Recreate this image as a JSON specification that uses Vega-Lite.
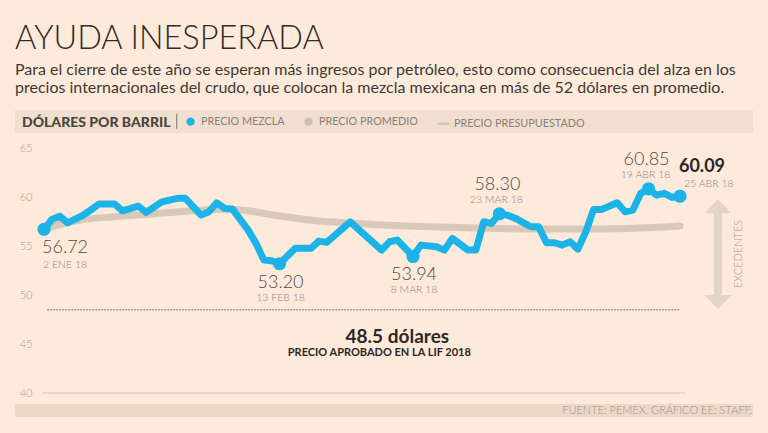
{
  "$schema": "https://vega.github.io/schema/vega-lite/v6.json",
  "autosize": {"type": "none"},
  "width": 738,
  "height": 318.5,
  "padding": {"left": 15, "top": 104, "right": 15, "bottom": 10.5},
  "background": "#fdeadb",
  "config": {
    "view": {"stroke": null},
    "font": "Lato"
  },
  "title": {
    "text": "AYUDA INESPERADA",
    "subtitle": [
      "Para el cierre de este año se esperan más ingresos por petróleo, esto como consecuencia del alza en los",
      "precios internacionales del crudo, que colocan la mezcla mexicana en más de 52 dólares en promedio."
    ],
    "anchor": "start",
    "frame": "group",
    "font": "Lato",
    "fontSize": 32.5,
    "fontWeight": 300,
    "color": "#2f2b28",
    "subtitleFont": "Lato",
    "subtitleFontSize": 16,
    "subtitleColor": "#3d3935",
    "subtitleLineHeight": 18,
    "subtitlePadding": 7,
    "offset": 8
  },
  "datasets": {
    "mezcla": [
      {"sesion": 0, "precio": 56.72}, {"sesion": 1, "precio": 57.72}, {"sesion": 2, "precio": 58.06},
      {"sesion": 3, "precio": 57.38}, {"sesion": 5, "precio": 58.16}, {"sesion": 7, "precio": 59.29},
      {"sesion": 9, "precio": 59.29}, {"sesion": 10, "precio": 58.6}, {"sesion": 12, "precio": 59.08},
      {"sesion": 13, "precio": 58.44}, {"sesion": 15, "precio": 59.52}, {"sesion": 17, "precio": 59.87},
      {"sesion": 18, "precio": 59.87}, {"sesion": 20, "precio": 58.16}, {"sesion": 21, "precio": 58.5},
      {"sesion": 22, "precio": 59.42}, {"sesion": 23, "precio": 58.85}, {"sesion": 24, "precio": 58.78},
      {"sesion": 26, "precio": 56.63}, {"sesion": 27, "precio": 55.28}, {"sesion": 28, "precio": 53.57},
      {"sesion": 29, "precio": 53.5}, {"sesion": 30, "precio": 53.2}, {"sesion": 32, "precio": 54.77},
      {"sesion": 34, "precio": 54.77}, {"sesion": 35, "precio": 55.51}, {"sesion": 36, "precio": 55.38},
      {"sesion": 39, "precio": 57.48}, {"sesion": 43, "precio": 54.59}, {"sesion": 44, "precio": 55.44},
      {"sesion": 45, "precio": 55.61}, {"sesion": 47, "precio": 53.94}, {"sesion": 48, "precio": 55.1},
      {"sesion": 50, "precio": 54.93}, {"sesion": 51, "precio": 54.59}, {"sesion": 52, "precio": 55.79},
      {"sesion": 54, "precio": 54.59}, {"sesion": 55, "precio": 54.59}, {"sesion": 56, "precio": 57.48},
      {"sesion": 57, "precio": 57.32}, {"sesion": 58, "precio": 58.3}, {"sesion": 59, "precio": 58.16},
      {"sesion": 60, "precio": 57.85}, {"sesion": 62, "precio": 56.97}, {"sesion": 63, "precio": 56.97},
      {"sesion": 64, "precio": 55.34}, {"sesion": 65, "precio": 55.34}, {"sesion": 66, "precio": 55.1},
      {"sesion": 67, "precio": 55.44}, {"sesion": 68, "precio": 54.69}, {"sesion": 69, "precio": 56.46},
      {"sesion": 70, "precio": 58.74}, {"sesion": 71, "precio": 58.74}, {"sesion": 73, "precio": 59.42},
      {"sesion": 74, "precio": 58.5}, {"sesion": 75, "precio": 58.67}, {"sesion": 76, "precio": 60.38},
      {"sesion": 77, "precio": 60.85}, {"sesion": 78, "precio": 60.2}, {"sesion": 79, "precio": 60.38},
      {"sesion": 80, "precio": 59.97}, {"sesion": 81, "precio": 60.09}
    ],
    "promedio": [
      {"sesion": 0, "precio": 56.72}, {"sesion": 2, "precio": 57.2}, {"sesion": 5, "precio": 57.7},
      {"sesion": 9, "precio": 58.0}, {"sesion": 14, "precio": 58.3}, {"sesion": 19, "precio": 58.6},
      {"sesion": 23, "precio": 58.75}, {"sesion": 26, "precio": 58.6}, {"sesion": 29, "precio": 58.2},
      {"sesion": 33, "precio": 57.75}, {"sesion": 37, "precio": 57.45}, {"sesion": 42, "precio": 57.2},
      {"sesion": 48, "precio": 57.0}, {"sesion": 55, "precio": 56.85}, {"sesion": 62, "precio": 56.75},
      {"sesion": 70, "precio": 56.75}, {"sesion": 76, "precio": 56.85}, {"sesion": 81, "precio": 57.05}
    ],
    "destacados": [
      {"sesion": 0, "precio": 56.72, "fecha": "2 ENE 18", "serie": "PRECIO MEZCLA"},
      {"sesion": 30, "precio": 53.2, "fecha": "13 FEB 18", "serie": "PRECIO MEZCLA"},
      {"sesion": 47, "precio": 53.94, "fecha": "8 MAR 18", "serie": "PRECIO MEZCLA"},
      {"sesion": 58, "precio": 58.3, "fecha": "23 MAR 18", "serie": "PRECIO MEZCLA"},
      {"sesion": 77, "precio": 60.85, "fecha": "19 ABR 18", "serie": "PRECIO MEZCLA"},
      {"sesion": 81, "precio": 60.09, "fecha": "25 ABR 18", "serie": "PRECIO MEZCLA"}
    ],
    "lif": [
      {"precio": 48.5, "texto": "48.5 dólares", "nota": "PRECIO APROBADO EN LA LIF 2018"}
    ]
  },
  "encoding": {
    "x": {"type": "quantitative", "scale": {"domain": [-3.7, 90.3], "nice": false, "zero": false}, "axis": null},
    "y": {"type": "quantitative", "scale": {"domain": [37, 69.5], "nice": false, "zero": false},
      "axis": {"values": [40, 45, 50, 55, 60, 65], "grid": false, "domain": false, "ticks": false, "tickSize": 0,
        "labelPadding": 0, "offset": -17, "title": null, "labelFont": "Lato", "labelFontWeight": 300,
        "labelFontSize": 11, "labelColor": "#a99f96"}}
  },
  "layer": [
    {
      "data": {"values": [{}]},
      "mark": {"type": "rect", "color": "#f0dece"},
      "encoding": {"x": {"datum": -3.7}, "x2": {"datum": 90.3}, "y": {"datum": 66.53}, "y2": {"datum": 68.88}}
    },
    {
      "data": {"values": [{}]},
      "mark": {"type": "rule", "color": "#7d746d", "strokeWidth": 1},
      "encoding": {"x": {"datum": 16.9}, "y": {"datum": 66.95}, "y2": {"datum": 68.5}}
    },
    {
      "data": {"values": [{}]},
      "mark": {"type": "rect", "color": "#ebd8c7"},
      "encoding": {"x": {"datum": -3.7}, "x2": {"datum": 90.3}, "y": {"datum": 37.55}, "y2": {"datum": 38.88}}
    },
    {
      "data": {"values": [{}]},
      "mark": {"type": "rule", "color": "#e6d4c4", "strokeWidth": 2},
      "encoding": {"x": {"datum": -0.13}, "x2": {"datum": 81.6}, "y": {"datum": 40}}
    },
    {
      "data": {"name": "lif"},
      "mark": {"type": "rule", "color": "#a99b8e", "strokeWidth": 1.5, "strokeDash": [2, 1]},
      "encoding": {"x": {"datum": 0.4}, "x2": {"datum": 81}, "y": {"field": "precio"}}
    },
    {
      "data": {"name": "lif"},
      "mark": {"type": "text", "font": "Lato", "fontWeight": "bold", "fontSize": 19, "color": "#2b2724", "align": "center", "baseline": "alphabetic", "dy": 33},
      "encoding": {"x": {"datum": 45}, "y": {"field": "precio"}, "text": {"field": "texto"}}
    },
    {
      "data": {"name": "lif"},
      "mark": {"type": "text", "font": "Lato", "fontWeight": "bold", "fontSize": 11, "color": "#2b2724", "align": "center", "baseline": "alphabetic", "dy": 46},
      "encoding": {"x": {"datum": 42.7}, "y": {"field": "precio"}, "text": {"field": "nota"}}
    },
    {
      "data": {"name": "promedio"},
      "mark": {"type": "line", "color": "#d9c9b9", "strokeWidth": 7, "interpolate": "monotone", "strokeCap": "round"},
      "encoding": {"x": {"field": "sesion"}, "y": {"field": "precio"}}
    },
    {
      "data": {"name": "mezcla"},
      "mark": {"type": "line", "color": "#1cb4e8", "strokeWidth": 7, "strokeJoin": "round", "strokeCap": "round"},
      "encoding": {"x": {"field": "sesion"}, "y": {"field": "precio"}}
    },
    {
      "data": {"name": "destacados"},
      "mark": {"type": "point", "filled": true, "size": 175, "opacity": 1},
      "encoding": {
        "x": {"field": "sesion"},
        "y": {"field": "precio"},
        "color": {
          "field": "serie", "type": "nominal",
          "scale": {"domain": ["PRECIO MEZCLA", "PRECIO PROMEDIO", "PRECIO PRESUPUESTADO"], "range": ["#1cb4e8", "#cbbfb3", "#cfc2b5"]},
          "legend": {
            "title": "DÓLARES POR BARRIL",
            "orient": "none", "legendX": 7, "legendY": 12,
            "direction": "horizontal",
            "titleOrient": "left",
            "titleFont": "Lato", "titleFontSize": 14, "titleFontWeight": 900, "titleColor": "#4b4541",
            "titlePadding": 14,
            "labelFont": "Lato", "labelFontSize": 10.8, "labelColor": "#8b8079", "labelOffset": 5,
            "columnPadding": 14, "symbolSize": 70, "padding": 0,
            "symbolOpacity": 1,
            "encode": {"symbols": {"update": {
              "shape": {"signal": "datum.value === 'PRECIO PRESUPUESTADO' ? 'stroke' : 'circle'"},
              "stroke": {"signal": "datum.value === 'PRECIO PRESUPUESTADO' ? '#cfc2b5' : 'transparent'"},
              "strokeWidth": {"value": 2.5},
              "size": {"signal": "datum.value === 'PRECIO PRESUPUESTADO' ? 130 : 70"}
            }}}
          }
        }
      }
    },
    {
      "data": {"name": "destacados"},
      "transform": [{"filter": {"field": "fecha", "oneOf": ["2 ENE 18"]}}],
      "layer": [
        {"mark": {"type": "text", "font": "Lato", "fontWeight": 300, "fontSize": 18, "color": "#4f4a46", "align": "left", "baseline": "alphabetic", "dx": -2, "dy": 24},
         "encoding": {"x": {"field": "sesion"}, "y": {"field": "precio"}, "text": {"field": "precio", "format": ".2f"}}},
        {"mark": {"type": "text", "font": "Lato", "fontWeight": 300, "fontSize": 10.5, "color": "#8d857e", "align": "left", "baseline": "alphabetic", "dx": -1, "dy": 39},
         "encoding": {"x": {"field": "sesion"}, "y": {"field": "precio"}, "text": {"field": "fecha"}}}
      ]
    },
    {
      "data": {"name": "destacados"},
      "transform": [{"filter": {"field": "fecha", "oneOf": ["13 FEB 18", "8 MAR 18"]}}],
      "layer": [
        {"mark": {"type": "text", "font": "Lato", "fontWeight": 300, "fontSize": 18, "color": "#4f4a46", "align": "center", "baseline": "alphabetic", "dx": 1, "dy": 24},
         "encoding": {"x": {"field": "sesion"}, "y": {"field": "precio"}, "text": {"field": "precio", "format": ".2f"}}},
        {"mark": {"type": "text", "font": "Lato", "fontWeight": 300, "fontSize": 10.5, "color": "#8d857e", "align": "center", "baseline": "alphabetic", "dx": 1, "dy": 37},
         "encoding": {"x": {"field": "sesion"}, "y": {"field": "precio"}, "text": {"field": "fecha"}}}
      ]
    },
    {
      "data": {"name": "destacados"},
      "transform": [{"filter": {"field": "fecha", "oneOf": ["23 MAR 18", "19 ABR 18"]}}],
      "layer": [
        {"mark": {"type": "text", "font": "Lato", "fontWeight": 300, "fontSize": 18, "color": "#4f4a46", "align": "center", "baseline": "alphabetic", "dx": -2, "dy": -24},
         "encoding": {"x": {"field": "sesion"}, "y": {"field": "precio"}, "text": {"field": "precio", "format": ".2f"}}},
        {"mark": {"type": "text", "font": "Lato", "fontWeight": 300, "fontSize": 10.5, "color": "#8d857e", "align": "center", "baseline": "alphabetic", "dx": -3, "dy": -11},
         "encoding": {"x": {"field": "sesion"}, "y": {"field": "precio"}, "text": {"field": "fecha"}}}
      ]
    },
    {
      "data": {"name": "destacados"},
      "transform": [{"filter": {"field": "fecha", "oneOf": ["25 ABR 18"]}}],
      "layer": [
        {"mark": {"type": "text", "font": "Lato", "fontWeight": "bold", "fontSize": 18, "color": "#2b2724", "align": "left", "baseline": "alphabetic", "dx": -1, "dy": -24},
         "encoding": {"x": {"field": "sesion"}, "y": {"field": "precio"}, "text": {"field": "precio", "format": ".2f"}}},
        {"mark": {"type": "text", "font": "Lato", "fontWeight": 300, "fontSize": 10.5, "color": "#8d857e", "align": "left", "baseline": "alphabetic", "dx": 4, "dy": -9},
         "encoding": {"x": {"field": "sesion"}, "y": {"field": "precio"}, "text": {"field": "fecha"}}}
      ]
    },
    {
      "data": {"values": [{}]},
      "mark": {"type": "rule", "color": "#e2d5c8", "strokeWidth": 8},
      "encoding": {"x": {"datum": 85.84}, "y": {"datum": 49.6}, "y2": {"datum": 58.8}}
    },
    {
      "data": {"values": [{}]},
      "mark": {"type": "point", "filled": true, "color": "#e2d5c8", "opacity": 1, "size": 729, "shape": "M-1,0.52L0,-0.52L1,0.52Z"},
      "encoding": {"x": {"datum": 85.84}, "y": {"datum": 59.08}}
    },
    {
      "data": {"values": [{}]},
      "mark": {"type": "point", "filled": true, "color": "#e2d5c8", "opacity": 1, "size": 729, "shape": "M-1,-0.52L0,0.52L1,-0.52Z"},
      "encoding": {"x": {"datum": 85.84}, "y": {"datum": 49.29}}
    },
    {
      "data": {"values": [{}]},
      "mark": {"type": "text", "text": "EXCEDENTES", "angle": 270, "font": "Lato", "fontWeight": 300, "fontSize": 11, "color": "#a2978d", "align": "center", "baseline": "middle"},
      "encoding": {"x": {"datum": 88.5}, "y": {"datum": 54.2}}
    },
    {
      "data": {"values": [{}]},
      "mark": {"type": "text", "text": "FUENTE: PEMEX. GRÁFICO EE: STAFF.", "font": "Lato", "fontWeight": 300, "fontSize": 11, "color": "#9d928a", "align": "right", "baseline": "middle", "dx": -1},
      "encoding": {"x": {"datum": 90.3}, "y": {"datum": 38.2}}
    }
  ]
}
